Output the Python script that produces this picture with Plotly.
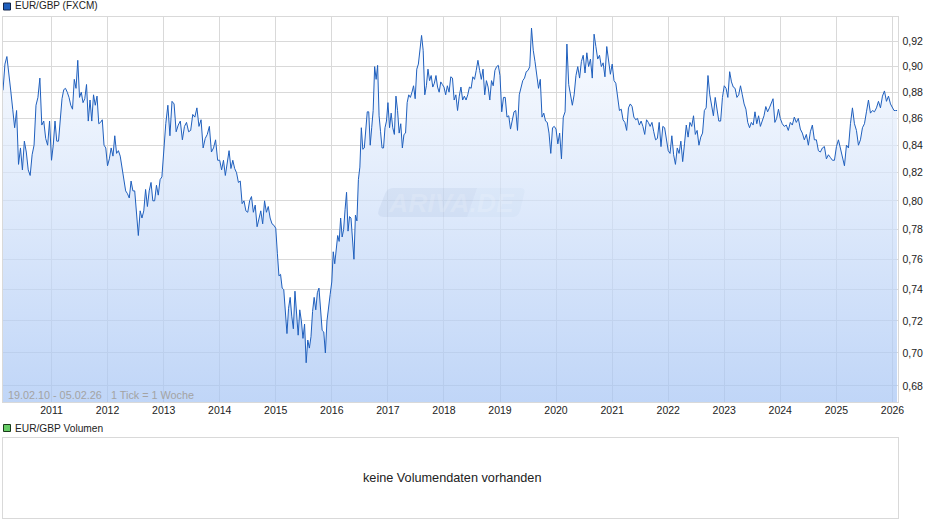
import pandas as pd
import plotly.graph_objects as go

# kurs je jahr, von hand aus dem bild gelesen
r2010 = [.8815,.902,.908,.892,.881,.867,.853,.866,.826,.838,.822,.843,.835,.822,.818,.833,.84,.87,.876,.891,.855,.858,.845,.84,.858]
r2011 = [.829,.84,.858,.843,.843,.861,.875,.882,.883,.88,.876,.87,.867,.89,.883,.905,.876,.88,.872,.875,.886,.858,.874,.858,.878,.87,.877,.856,.857,.859,.84,.838]
r2012 = [.825,.83,.838,.832,.847,.834,.836,.832,.824,.815,.807,.805,.802,.814,.807,.807,.79,.776,.793,.788,.793,.808,.796,.807,.813,.80,.80,.811,.804,.815,.817]
r2013 = [.836,.856,.87,.847,.873,.871,.85,.855,.858,.844,.854,.857,.85,.851,.863,.861,.868,.854,.859,.838,.845,.848,.854,.835,.838,.844,.829]
r2014 = [.829,.822,.829,.818,.827,.836,.823,.829,.823,.82,.813,.814,.798,.80,.793,.792,.80,.803,.792,.797,.782,.787,.793,.784,.80,.792,.796,.788,.784,.783]
r2015 = [.781,.764,.749,.75,.741,.74,.723,.712,.728,.735,.723,.715,.739,.727,.711,.727,.72,.709,.718,.694,.708,.703,.71,.726,.735,.727,.738,.741,.729,.714,.713,.70,.72,.73,.737]
r2016 = [.745,.765,.757,.767,.776,.772,.788,.775,.78,.794,.806,.779,.789,.788,.775,.76,.79,.786,.815,.824,.853,.837,.838,.849,.865,.865,.84,.853,.866,.90,.89,.901,.862,.85,.838,.838,.853,.858]
r2017 = [.872,.853,.864,.853,.848,.877,.866,.849,.856,.838,.848,.849,.872,.878,.876,.88,.885,.875,.898,.902,.913,.925,.913,.878,.885,.898,.889,.893,.884,.887,.893,.884,.88,.888,.886]
r2018 = [.884,.878,.885,.88,.892,.891,.874,.878,.866,.877,.884,.874,.877,.874,.878,.884,.883,.892,.89,.897,.905,.897,.89,.898,.878,.889,.884,.874,.889,.885,.897,.90,.901]
r2019 = [.893,.865,.876,.876,.861,.862,.852,.86,.865,.866,.851,.878,.884,.889,.891,.896,.897,.90,.931,.913,.904,.893,.883,.89,.861,.864,.858,.857,.849,.834,.853,.854]
r2020 = [.852,.841,.849,.83,.861,.865,.918,.886,.877,.87,.878,.893,.90,.891,.904,.909,.895,.911,.90,.906,.891,.926,.916,.906,.909,.90,.903,.892,.916,.903,.894]
r2021 = [.902,.889,.887,.876,.866,.867,.859,.857,.851,.868,.871,.869,.861,.859,.86,.855,.858,.854,.848,.859,.857,.854,.857,.85,.844,.845,.857,.839,.854,.853,.844]
r2022 = [.836,.834,.847,.833,.826,.838,.834,.843,.828,.841,.855,.846,.857,.854,.862,.848,.851,.84,.846,.849,.866,.868,.893,.878,.87,.862,.876,.865,.858,.858,.876]
r2023 = [.885,.883,.876,.896,.888,.884,.883,.876,.878,.885,.878,.871,.867,.857,.853,.857,.855,.865,.856,.862,.854,.858,.862,.869,.865,.868,.871,.875,.857,.86,.867]
r2024 = [.86,.856,.854,.855,.851,.857,.855,.861,.857,.86,.852,.849,.844,.848,.84,.85,.855,.844,.844,.836,.835,.838,.839,.83,.833,.831,.829,.829]
r2025 = [.839,.844,.838,.833,.825,.84,.838,.856,.868,.856,.851,.84,.844,.853,.856,.865,.874,.864,.866,.865,.868,.873,.868,.877,.881,.873,.877,.871]
r2026 = [.868,.866,.866,.866]

jahre = [r2010, r2011, r2012, r2013, r2014, r2015, r2016, r2017, r2018, r2019, r2020, r2021, r2022, r2023, r2024, r2025, r2026]
grenzen = ["2010-02-19"] + [f"{j}-01-01" for j in range(2011, 2027)] + ["2026-02-10"]

y_ticks = [.68, .70, .72, .74, .76, .78, .80, .82, .84, .86, .88, .90, .92]
x_ticks = [f"{j}-01-01" for j in range(2011, 2027)]
x_labels = [str(j) for j in range(2011, 2027)]

datum = []
kurs = []
for i, werte in enumerate(jahre):
    datum += list(pd.date_range(grenzen[i], grenzen[i + 1], periods=len(werte) + 1)[:-1])
    kurs += werte

W = 940
H = 526


def px(x):
    return x / W


def py(y):
    return 1 - y / H


fig = go.Figure()
fig.add_trace(go.Scatter(
    x=datum, y=kurs, mode="lines", showlegend=False,
    line=dict(color="#1f5fbd", width=1),
    fill="tozeroy",
    fillgradient=dict(type="vertical", start=.6705, stop=.94,
                      colorscale=[[0, "rgba(165,196,244,.7)"], [1, "rgba(250,252,255,.7)"]]),
))
fig.add_trace(go.Scatter(x=[datum[0]], y=[0], xaxis="x2", yaxis="y2", mode="none", showlegend=False, hoverinfo="skip"))

grau = "#d9d9d9"
fig.update_layout(
    width=W, height=H,
    margin=dict(l=0, r=0, t=0, b=0),
    paper_bgcolor="white", plot_bgcolor="white",
    separators=",.",
    font=dict(family="Liberation Sans, Arial", size=10.5, color="#222222"),
    xaxis=dict(
        domain=[px(2.7), px(898.3)], anchor="y", type="date", automargin=False,
        range=["2010-02-17", "2026-02-08"],
        tickvals=x_ticks, ticktext=x_labels, ticks="", showgrid=True, ticklabelstandoff=-2,
        gridcolor=grau, gridwidth=1, showline=True, linecolor=grau, mirror=True, zeroline=False,
    ),
    yaxis=dict(
        domain=[py(402), py(16.5)], anchor="x", type="log", side="right", automargin=False,
        range=[-0.17360, -0.02665],
        tickvals=y_ticks, tickformat=".2f", ticks="", showgrid=True, ticklabelstandoff=1,
        gridcolor=grau, gridwidth=1, showline=True, linecolor=grau, mirror=True, zeroline=False,
    ),
    xaxis2=dict(domain=[px(2.7), px(898.3)], anchor="y2", showticklabels=False, ticks="", showgrid=False, automargin=False,
                showline=True, linecolor=grau, mirror=True, zeroline=False),
    yaxis2=dict(domain=[py(517.5), py(437.5)], anchor="x2", showticklabels=False, ticks="", showgrid=False, automargin=False,
                showline=True, linecolor=grau, mirror=True, zeroline=False),
)

# legendenkaestchen
fig.add_shape(type="rect", xref="paper", yref="paper", x0=px(3.5), x1=px(10.5), y0=py(10), y1=py(3),
              fillcolor="#1f5fbd", line=dict(color="#12254a", width=1))
fig.add_shape(type="rect", xref="paper", yref="paper", x0=px(3.5), x1=px(10.5), y0=py(431.5), y1=py(424.5),
              fillcolor="#66cc66", line=dict(color="#1a3a1a", width=1))

# wasserzeichen
dunkel = f"M {px(393)},{py(188)} L {px(477)},{py(188)} L {px(467)},{py(217)} L {px(384)},{py(217)} Q {px(376)},{py(217)} {px(379)},{py(209)} L {px(385)},{py(194)} Q {px(387)},{py(188)} {px(393)},{py(188)} Z"
hell = f"M {px(477)},{py(188)} L {px(520)},{py(188)} Q {px(526)},{py(188)} {px(524)},{py(194)} L {px(520)},{py(211)} Q {px(518)},{py(217)} {px(512)},{py(217)} L {px(467)},{py(217)} Z"
fig.add_shape(type="path", xref="paper", yref="paper", path=dunkel, fillcolor="rgba(120,150,195,.11)", line=dict(width=0))
fig.add_shape(type="path", xref="paper", yref="paper", path=hell, fillcolor="rgba(120,150,195,.05)", line=dict(width=0))


def text(x, y, s, size=10.5, color="#222222", anchor="left", **font):
    fig.add_annotation(xref="paper", yref="paper", x=px(x), y=py(y), text=s, showarrow=False, xanchor=anchor,
                       yanchor="middle", borderpad=0, font=dict(size=size, color=color, **font))


text(451, 202.5, "ARIVA.DE", size=26.5, color="rgba(255,255,255,.16)", anchor="center", weight="bold", style="italic")
text(14, 6, "EUR/GBP (FXCM)", size=10)
text(14, 428, "EUR/GBP Volumen", size=10.2)
text(7, 395, "19.02.10 - 05.02.26", size=10.8, color="#a3a3a3")
text(110, 395, "1 Tick = 1 Woche", size=10.8, color="#a3a3a3")
text(451.5, 477.5, "keine Volumendaten vorhanden", size=12.7, anchor="center")

fig.write_html("out.html", config={"displayModeBar": False}, post_script="document.body.style.margin='0';")
